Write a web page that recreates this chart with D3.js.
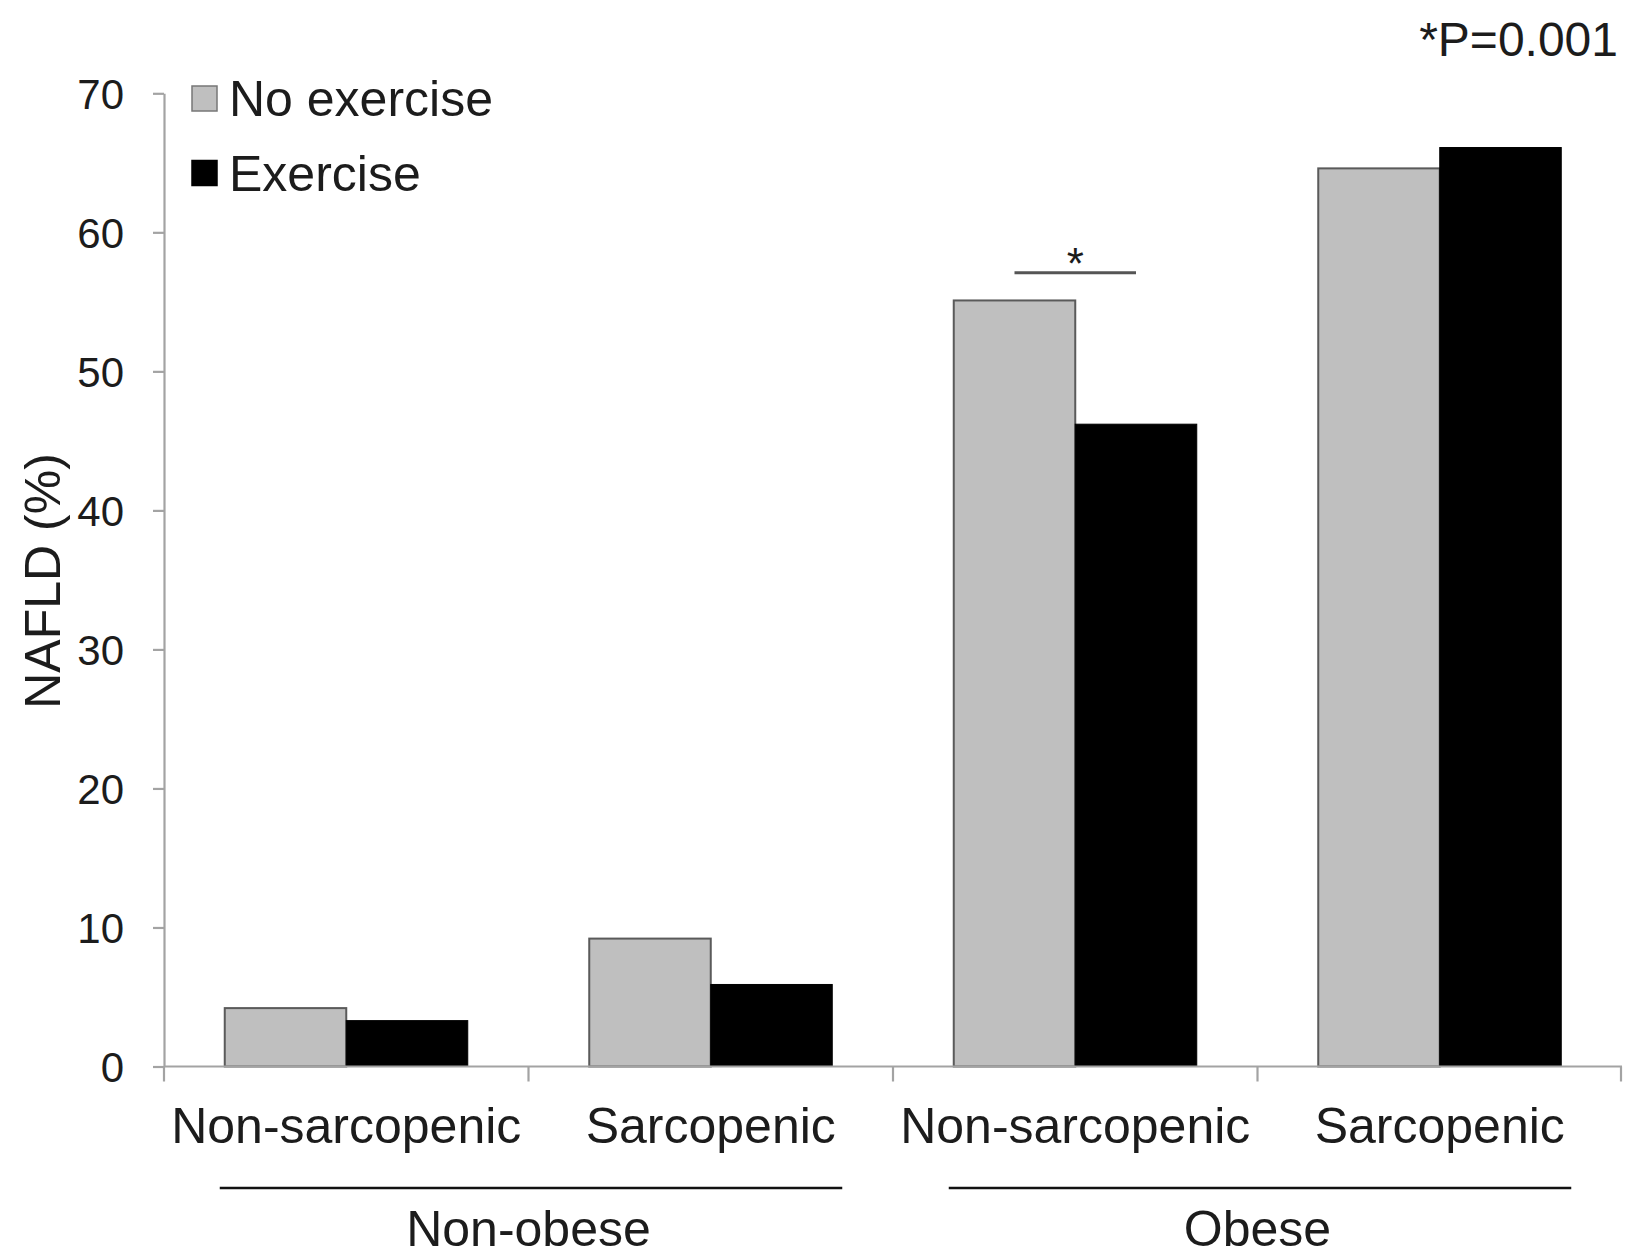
<!DOCTYPE html>
<html>
<head>
<meta charset="utf-8">
<script src="https://cdn.jsdelivr.net/npm/d3@7"></script>
<style>
  html, body { margin: 0; padding: 0; background: #fff; }
  svg { display: block; font-family: "Liberation Sans", Arial, Helvetica, sans-serif; }
</style>
</head>
<body>
<svg id="chart" width="1625" height="1258"></svg>
<script>
// NAFLD prevalence by obesity / sarcopenia status and exercise habit
const categoryIds = ["nonObeseNonSarc", "nonObeseSarc", "obeseNonSarc", "obeseSarc"];
const categoryLabels = ["Non-sarcopenic", "Sarcopenic", "Non-sarcopenic", "Sarcopenic"];
const seriesNames = ["No exercise", "Exercise"];
const noExercise = [4.2, 9.2, 55.1, 64.6];
const exercise = [3.3, 5.9, 46.2, 66.1];
const groupLabels = ["Non-obese", "Obese"];
const groupMembers = [[0, 1], [2, 3]];
const yTicks = [0, 10, 20, 30, 40, 50, 60, 70];
const significance = { category: 2, level: 57.1, mark: "*", note: "*P=0.001" };

const seriesValues = [noExercise, exercise];
const fills = ["#bfbfbf", "#000000"];
const strokes = ["#5a5a5a", "#000000"];
const textColor = "#1c1c1c";
const axisColor = "#a3a3a3";

const svg = d3.select("#chart");

const x0 = d3.scaleBand().domain(categoryIds).range([164, 1622]).paddingInner(0).paddingOuter(0);
const bw = x0.bandwidth();
const x1 = d3.scaleBand().domain(seriesNames).range([bw / 6, bw * 5 / 6]).padding(0);
const y = d3.scaleLinear().domain([0, 70]).range([1066.5, 93.3]);

// y axis
const yAxis = svg.append("g")
  .attr("transform", "translate(164,0)")
  .call(d3.axisLeft(y).tickValues(yTicks).tickSize(11).tickSizeOuter(0).tickPadding(29));
yAxis.select(".domain").attr("stroke", axisColor).attr("stroke-width", 2.2);
yAxis.selectAll(".tick line").attr("stroke", axisColor).attr("stroke-width", 2.2);
yAxis.selectAll(".tick text")
  .attr("fill", textColor)
  .style("font-size", "42px")
  .style("font-family", "'Liberation Sans', Arial, sans-serif")
  .attr("dy", "0.36em");

// bars
const bars = svg.append("g");
categoryIds.forEach((id, i) => {
  seriesNames.forEach((s, k) => {
    const v = seriesValues[k][i];
    bars.append("rect")
      .attr("x", x0(id) + x1(s))
      .attr("y", y(v))
      .attr("width", x1.bandwidth())
      .attr("height", y(0) - y(v))
      .attr("fill", fills[k])
      .attr("stroke", strokes[k])
      .attr("stroke-width", k === 0 ? 2 : 1);
  });
});

// x axis with category boundary ticks
const xAxis = svg.append("g").attr("transform", `translate(0,${y(0)})`);
xAxis.append("line")
  .attr("x1", x0.range()[0]).attr("x2", x0.range()[1])
  .attr("y1", 0).attr("y2", 0)
  .attr("stroke", axisColor).attr("stroke-width", 2.2);
const boundaries = categoryIds.map(id => x0(id)).concat([x0.range()[1] - 1]);
xAxis.selectAll("line.boundary").data(boundaries).join("line")
  .attr("class", "boundary")
  .attr("x1", d => d).attr("x2", d => d)
  .attr("y1", 0).attr("y2", 15)
  .attr("stroke", axisColor).attr("stroke-width", 2.2);
xAxis.selectAll("text.cat").data(categoryIds).join("text")
  .attr("class", "cat")
  .attr("x", d => x0(d) + bw / 2)
  .attr("y", 76)
  .attr("text-anchor", "middle")
  .attr("fill", textColor)
  .style("font-size", "50px")
  .text((d, i) => categoryLabels[i]);

// grouping lines and labels
groupMembers.forEach((members, g) => {
  const first = categoryIds[members[0]];
  const last = categoryIds[members[members.length - 1]];
  const left = x0(first) + x1(seriesNames[0]);
  const right = x0(last) + x1(seriesNames[1]) + x1.bandwidth() + 10;
  svg.append("line")
    .attr("x1", left - 5).attr("x2", right)
    .attr("y1", 1188).attr("y2", 1188)
    .attr("stroke", "#111").attr("stroke-width", 2.6);
  svg.append("text")
    .attr("x", (x0(first) + x0(last) + bw) / 2)
    .attr("y", 1246)
    .attr("text-anchor", "middle")
    .attr("fill", textColor)
    .style("font-size", "50px")
    .text(groupLabels[g]);
});

// significance bracket
const sigId = categoryIds[significance.category];
const sx1 = x0(sigId) + x1(seriesNames[0]) + x1.bandwidth() / 2;
const sx2 = x0(sigId) + x1(seriesNames[1]) + x1.bandwidth() / 2;
svg.append("line")
  .attr("x1", sx1).attr("x2", sx2)
  .attr("y1", y(significance.level)).attr("y2", y(significance.level))
  .attr("stroke", "#555").attr("stroke-width", 3);
svg.append("text")
  .attr("x", (sx1 + sx2) / 2)
  .attr("y", y(significance.level) + 6)
  .attr("text-anchor", "middle")
  .attr("fill", textColor)
  .style("font-size", "44px")
  .text(significance.mark);

svg.append("text")
  .attr("x", 1618)
  .attr("y", 56)
  .attr("text-anchor", "end")
  .attr("fill", textColor)
  .style("font-size", "48px")
  .text(significance.note);

// legend
const legend = svg.append("g");
seriesNames.forEach((s, k) => {
  const ly = [86, 160.5][k];
  legend.append("rect")
    .attr("x", 192).attr("y", ly)
    .attr("width", 25).attr("height", 25)
    .attr("fill", fills[k])
    .attr("stroke", k === 0 ? "#777" : "#000")
    .attr("stroke-width", 1.5);
  legend.append("text")
    .attr("x", 229).attr("y", ly + 30)
    .attr("fill", textColor)
    .style("font-size", "50px")
    .text(s);
});

// y axis title
svg.append("text")
  .attr("transform", "translate(60,581) rotate(-90)")
  .attr("text-anchor", "middle")
  .attr("fill", textColor)
  .style("font-size", "50px")
  .text("NAFLD (%)");
</script>
</body>
</html>
